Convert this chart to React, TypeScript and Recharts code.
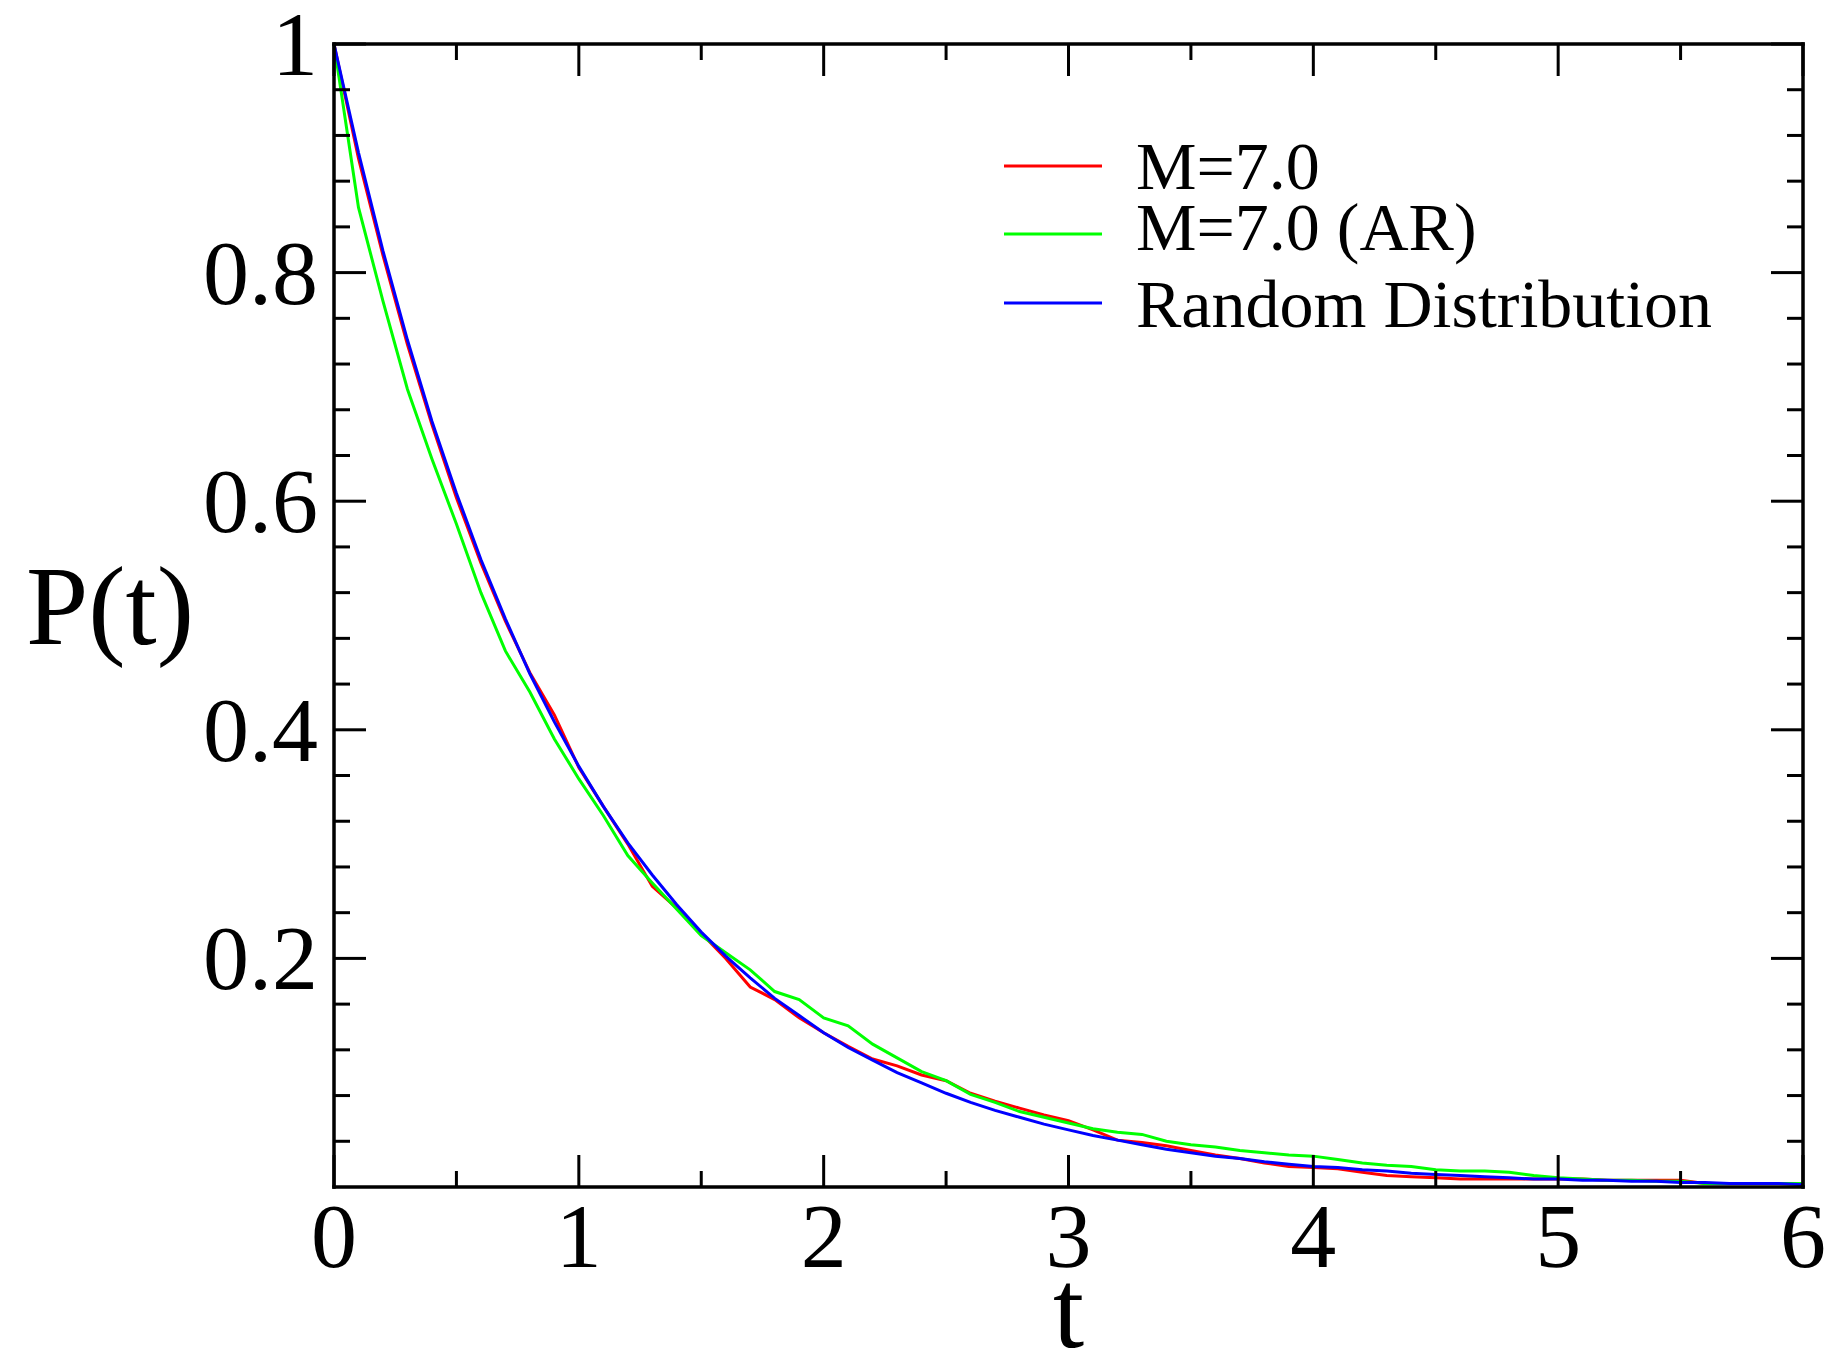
import React from 'react';
import { LineChart, Line, XAxis, YAxis, Legend } from 'recharts';

// time axis (t)
const tValues = [
  0, 0.1, 0.2, 0.3, 0.4, 0.5, 0.6, 0.7, 0.8, 0.9,
  1.0, 1.1, 1.2, 1.3, 1.4, 1.5, 1.6, 1.7, 1.8, 1.9,
  2.0, 2.1, 2.2, 2.3, 2.4, 2.5, 2.6, 2.7, 2.8, 2.9,
  3.0, 3.1, 3.2, 3.3, 3.4, 3.5, 3.6, 3.7, 3.8, 3.9,
  4.0, 4.1, 4.2, 4.3, 4.4, 4.5, 4.6, 4.7, 4.8, 4.9,
  5.0, 5.1, 5.2, 5.3, 5.4, 5.5, 5.6, 5.7, 5.8, 5.9,
  6.0,
];

// M=7.0 (red)
const m7 = [
  1, 0.900, 0.815, 0.737, 0.667, 0.603, 0.546, 0.495, 0.450, 0.413,
  0.367, 0.333, 0.300, 0.263, 0.244, 0.222, 0.200, 0.175, 0.164, 0.148,
  0.135, 0.123, 0.112, 0.106, 0.098, 0.093, 0.082, 0.075, 0.069, 0.063,
  0.058, 0.050, 0.041, 0.039, 0.036, 0.032, 0.028, 0.025, 0.021, 0.018,
  0.017, 0.016, 0.013, 0.010, 0.009, 0.008, 0.007, 0.007, 0.007, 0.007,
  0.007, 0.007, 0.006, 0.006, 0.006, 0.006, 0.003, 0.003, 0.003, 0.003,
  0.003,
];

// M=7.0 (AR) (green)
const m7ar = [
  1, 0.857, 0.775, 0.698, 0.637, 0.580, 0.520, 0.469, 0.433, 0.392,
  0.357, 0.325, 0.290, 0.266, 0.243, 0.220, 0.205, 0.190, 0.171, 0.164,
  0.148, 0.141, 0.125, 0.113, 0.101, 0.093, 0.081, 0.074, 0.066, 0.061,
  0.056, 0.051, 0.048, 0.046, 0.040, 0.037, 0.035, 0.032, 0.030, 0.028,
  0.027, 0.024, 0.021, 0.019, 0.018, 0.015, 0.014, 0.014, 0.013, 0.010,
  0.008, 0.007, 0.006, 0.006, 0.005, 0.005, 0.003, 0.003, 0.003, 0.003,
  0.003,
];

// Random Distribution (blue)
const randomDist = [
  1, 0.905, 0.819, 0.741, 0.670, 0.607, 0.549, 0.497, 0.449, 0.407,
  0.368, 0.333, 0.301, 0.273, 0.247, 0.223, 0.202, 0.183, 0.165, 0.150,
  0.135, 0.122, 0.111, 0.100, 0.091, 0.082, 0.074, 0.067, 0.061, 0.055,
  0.050, 0.045, 0.041, 0.037, 0.033, 0.030, 0.027, 0.025, 0.022, 0.020,
  0.018, 0.017, 0.015, 0.014, 0.012, 0.011, 0.010, 0.009, 0.008, 0.007,
  0.007, 0.006, 0.006, 0.005, 0.005, 0.004, 0.004, 0.003, 0.003, 0.003,
  0.002,
];

const xTicks = [0, 0.5, 1, 1.5, 2, 2.5, 3, 3.5, 4, 4.5, 5, 5.5, 6];
const yTicks = [
  0.04, 0.08, 0.12, 0.16, 0.2, 0.24, 0.28, 0.32, 0.36, 0.4,
  0.44, 0.48, 0.52, 0.56, 0.6, 0.64, 0.68, 0.72, 0.76, 0.8,
  0.84, 0.88, 0.92, 0.96, 1,
];

const data = tValues.map((t, i) => ({
  t,
  m7: m7[i],
  m7ar: m7ar[i],
  random: randomDist[i],
}));

const FONT = '"Liberation Serif", "Times New Roman", serif';
const MAJOR = 32;
const MINOR = 16;

const isMajorX = (v: number) => Math.abs(v - Math.round(v)) < 1e-6;
const isMajorY = (v: number) => Math.abs(v * 5 - Math.round(v * 5)) < 1e-6;
const fmtY = (v: number) => String(Math.round(v * 10) / 10);

const BottomTick = (props: any) => {
  const { x, y, payload } = props;
  const major = isMajorX(payload.value);
  return (
    <g>
      <line x1={x} x2={x} y1={y} y2={y - (major ? MAJOR : MINOR)} stroke="#000" strokeWidth={3} />
      {major && (
        <text x={x} y={y + 80} textAnchor="middle" fontSize={92} fontFamily={FONT} fill="#000">
          {payload.value}
        </text>
      )}
    </g>
  );
};

const TopTick = (props: any) => {
  const { x, y, payload } = props;
  const major = isMajorX(payload.value);
  return <line x1={x} x2={x} y1={y} y2={y + (major ? MAJOR : MINOR)} stroke="#000" strokeWidth={3} />;
};

const LeftTick = (props: any) => {
  const { x, y, payload } = props;
  const major = isMajorY(payload.value);
  return (
    <g>
      <line x1={x} x2={x + (major ? MAJOR : MINOR)} y1={y} y2={y} stroke="#000" strokeWidth={3} />
      {major && (
        <text x={x - 16} y={y + 31} textAnchor="end" fontSize={92} fontFamily={FONT} fill="#000">
          {fmtY(payload.value)}
        </text>
      )}
    </g>
  );
};

const RightTick = (props: any) => {
  const { x, y, payload } = props;
  const major = isMajorY(payload.value);
  return <line x1={x} x2={x - (major ? MAJOR : MINOR)} y1={y} y2={y} stroke="#000" strokeWidth={3} />;
};

const renderXLabel = (props: any) => {
  const vb = props.viewBox;
  return (
    <text x={vb.x + vb.width / 2} y={vb.y + 160} textAnchor="middle" fontSize={112} fontFamily={FONT} fill="#000">
      t
    </text>
  );
};

const renderYLabel = (props: any) => {
  const vb = props.viewBox;
  return (
    <text x={110} y={vb.y + vb.height / 2 + 28} textAnchor="middle" fontSize={112} fontFamily={FONT} fill="#000">
      P(t)
    </text>
  );
};

const renderLegend = (props: any) => {
  const { payload } = props;
  const lineY = [46, 114, 183];
  const textY = [69, 130, 207];
  return (
    <svg width={760} height={240} style={{ display: 'block' }}>
      {(payload || []).map((entry: any, i: number) => (
        <g key={entry.value}>
          <line x1={0} x2={98} y1={lineY[i]} y2={lineY[i]} stroke={entry.color} strokeWidth={3} />
          <text x={132} y={textY[i]} fontSize={68} fontFamily={FONT} fill="#000">
            {entry.value}
          </text>
        </g>
      ))}
    </svg>
  );
};

const axisLine = { stroke: '#000', strokeWidth: 3.5, strokeLinecap: 'square' as const };

const App = () => {
  return (
    <div style={{ position: 'absolute', left: 0, top: 0, width: 1832, height: 1353, background: '#fff' }}>
      <LineChart
        width={1832}
        height={1353}
        data={data}
        margin={{ top: 0, right: 0, bottom: 0, left: 0 }}
        style={{ fontFamily: FONT }}
      >
        <XAxis
          dataKey="t"
          type="number"
          domain={[0, 6]}
          ticks={xTicks}
          interval={0}
          height={166}
          tickSize={0}
          tickMargin={0}
          tickLine={false}
          axisLine={axisLine}
          tick={BottomTick}
          label={renderXLabel}
        />
        <XAxis
          xAxisId="top"
          orientation="top"
          dataKey="t"
          type="number"
          domain={[0, 6]}
          allowDataOverflow
          ticks={xTicks}
          interval={0}
          height={44}
          tickSize={0}
          tickMargin={0}
          tickLine={false}
          axisLine={axisLine}
          tick={TopTick}
        />
        <YAxis
          type="number"
          domain={[0, 1]}
          ticks={yTicks}
          interval={0}
          width={334}
          tickSize={0}
          tickMargin={0}
          tickLine={false}
          axisLine={axisLine}
          tick={LeftTick}
          label={renderYLabel}
        />
        <YAxis
          yAxisId="right"
          orientation="right"
          type="number"
          domain={[0, 1]}
          allowDataOverflow
          ticks={yTicks}
          interval={0}
          width={29}
          tickSize={0}
          tickMargin={0}
          tickLine={false}
          axisLine={axisLine}
          tick={RightTick}
        />
        <Legend
          layout="horizontal"
          verticalAlign="middle"
          align="center"
          content={renderLegend}
          wrapperStyle={{ left: 1004, top: 120, width: 760, height: 240 }}
        />
        <Line type="linear" dataKey="m7" name="M=7.0" stroke="#ff0000" strokeWidth={3} dot={false} activeDot={false} isAnimationActive={false} />
        <Line type="linear" dataKey="m7ar" name="M=7.0 (AR)" stroke="#00ff00" strokeWidth={3} dot={false} activeDot={false} isAnimationActive={false} />
        <Line type="linear" dataKey="random" name="Random Distribution" stroke="#0000ff" strokeWidth={3} dot={false} activeDot={false} isAnimationActive={false} />
      </LineChart>
    </div>
  );
};

export default App;
